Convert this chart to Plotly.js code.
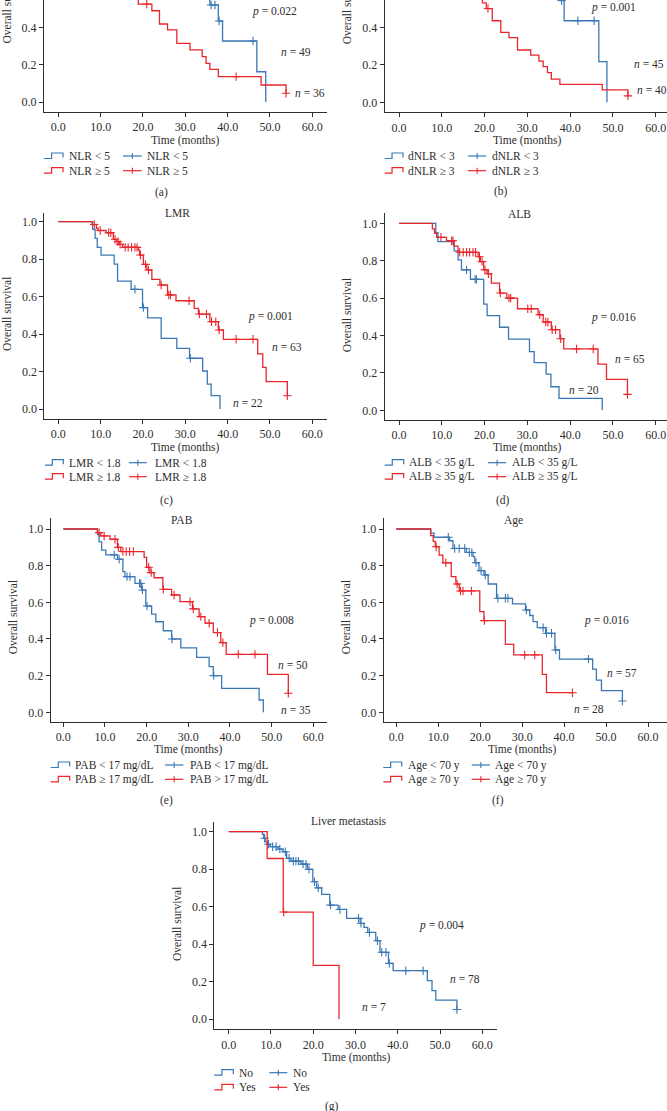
<!DOCTYPE html>
<html><head><meta charset="utf-8">
<script src="https://cdn.plot.ly/plotly-3.0.1.min.js"></script>
<style>html,body{margin:0;padding:0;background:#fff;overflow:hidden}#chart{width:667px;height:1111px}</style>
</head><body><div id="chart"></div>
<script>
// ---------- tick labels ----------
const monthTicks = [0, 10, 20, 30, 40, 50, 60];
const monthLabels = ['0.0', '10.0', '20.0', '30.0', '40.0', '50.0', '60.0'];
const survTicks = [0, 0.2, 0.4, 0.6, 0.8, 1.0];
const survLabels = ['0.0', '0.2', '0.4', '0.6', '0.8', '1.0'];

// ---------- (a) NLR ----------
const nlrLowT = [0, 10, 14, 18, 22, 26, 30, 33, 35.8, 37.8, 38.8, 46.9, 49];
const nlrLowS = [1, 0.96, 0.92, 0.86, 0.8, 0.74, 0.67, 0.6, 0.52, 0.434, 0.327, 0.162, 0];
const nlrLowCens = [36.1, 37.0, 38.0, 46];
const nlrHighT = [0, 8, 9, 10, 12, 13, 14, 15, 16, 17, 18, 18.9, 22.1, 23.9, 25.8, 28, 31.1, 34, 34.9, 35.8, 37.8, 47.9, 53.8];
const nlrHighS = [1, 0.97, 0.94, 0.91, 0.86, 0.83, 0.79, 0.75, 0.71, 0.66, 0.6, 0.525, 0.489, 0.418, 0.386, 0.314, 0.279, 0.243, 0.207, 0.175, 0.136, 0.091, 0.047];
const nlrHighCens = [20.9, 42, 53.8];

// ---------- (b) dNLR ----------
const dnlrLowT = [0, 9, 12, 15, 18, 21, 24, 27, 30, 33, 35.5, 37.7, 38.6, 46.7, 48.6];
const dnlrLowS = [1, 0.97, 0.93, 0.89, 0.84, 0.79, 0.74, 0.69, 0.65, 0.61, 0.57, 0.543, 0.435, 0.217, 0];
const dnlrLowCens = [38.0, 41.8, 45.6];
const dnlrHighT = [0, 8, 9, 11, 12, 13, 14, 15, 16.5, 18, 19.5, 20.4, 21.8, 23.8, 25.7, 27.7, 30.8, 32.7, 33.7, 34.7, 35.6, 37.6, 47.5, 53.5];
const dnlrHighS = [1, 0.97, 0.95, 0.91, 0.88, 0.84, 0.79, 0.74, 0.69, 0.63, 0.53, 0.50, 0.435, 0.373, 0.345, 0.279, 0.252, 0.22, 0.19, 0.158, 0.124, 0.096, 0.066, 0.034];
const dnlrHighCens = [20.8, 53.5];

// ---------- (c) LMR ----------
const lmrLowT = [0, 8.1, 8.7, 9.2, 10.1, 13.2, 14, 17.2, 19.9, 21.1, 24.3, 28, 31, 34.1, 35.2, 36.1, 38.2];
const lmrLowS = [1, 0.959, 0.911, 0.863, 0.822, 0.774, 0.683, 0.639, 0.541, 0.486, 0.377, 0.324, 0.271, 0.203, 0.133, 0.071, 0];
const lmrLowCens = [18.1, 20.1, 31.2];
const lmrHighT = [0, 8, 9, 9.4, 11.3, 13, 13.8, 14.4, 15.2, 18.9, 19.2, 20.1, 20.9, 22.1, 24, 25.8, 27.8, 32.1, 33.1, 35.8, 37.8, 39, 47.1, 48.3, 49.1, 54.1];
const lmrHighS = [1, 0.985, 0.965, 0.953, 0.941, 0.906, 0.893, 0.879, 0.863, 0.849, 0.822, 0.772, 0.742, 0.692, 0.662, 0.609, 0.578, 0.537, 0.507, 0.466, 0.422, 0.372, 0.294, 0.222, 0.146, 0.071];
const lmrHighCens = [8.5, 9.9, 11.9, 12.4, 13.4, 14.1, 14.6, 15.8, 16.5, 17.3, 18.1, 18.6, 19.4, 20.6, 21.3, 24.3, 26.1, 26.5, 30.9, 33.3, 35, 36.2, 37.2, 38, 42, 46, 54.1];

// ---------- (d) ALB ----------
const albLowT = [0, 8.6, 9.1, 12.9, 13.8, 14.6, 16.7, 19.8, 20.6, 23.5, 25.6, 30.5, 31.6, 34.4, 35.5, 37.4, 47.5];
const albLowS = [1, 0.95, 0.902, 0.853, 0.804, 0.751, 0.7, 0.568, 0.506, 0.444, 0.381, 0.314, 0.255, 0.193, 0.126, 0.064, 0];
const albLowCens = [15.8, 17.8, 18.1];
const albHighT = [0, 7.8, 8.3, 8.8, 11.1, 12.8, 13.8, 18.5, 19, 19.8, 20.6, 21.6, 23.5, 25.2, 27.7, 32.5, 33.7, 35.6, 37.6, 38.5, 46.5, 48.5, 53.4];
const albHighS = [1, 0.97, 0.946, 0.925, 0.907, 0.878, 0.845, 0.821, 0.795, 0.751, 0.73, 0.68, 0.627, 0.6, 0.543, 0.511, 0.472, 0.431, 0.383, 0.328, 0.247, 0.165, 0.085];
const albHighCens = [9.8, 12.3, 12.6, 14.2, 15, 15.8, 16.5, 17.3, 17.9, 18.8, 19.4, 20.1, 20.9, 23.7, 25.7, 26.1, 30.1, 30.9, 32.9, 34.3, 34.8, 35.8, 36.6, 37.8, 41.5, 45.4, 53.4];

// ---------- (e) PAB ----------
const pabLowT = [0, 8.2, 8.6, 9.2, 10.2, 13, 14.3, 14.8, 17.2, 18.8, 19.8, 21.2, 22.2, 24, 26, 28.2, 32, 35, 36, 38, 47, 48];
const pabLowS = [1, 0.97, 0.93, 0.885, 0.859, 0.835, 0.767, 0.74, 0.703, 0.667, 0.58, 0.536, 0.494, 0.445, 0.4, 0.352, 0.3, 0.249, 0.2, 0.131, 0.067, 0];
const pabLowCens = [12.2, 13.4, 15.3, 16, 18.3, 18.6, 19.0, 20.1, 26.1, 36.1];
const pabHighT = [0, 8.2, 9, 11.2, 13, 13.8, 19.4, 20, 20.8, 21.8, 23.9, 26, 28, 31, 32.6, 34, 36, 37.8, 39.1, 49, 54];
const pabHighS = [1, 0.98, 0.962, 0.944, 0.9, 0.877, 0.845, 0.791, 0.762, 0.734, 0.671, 0.64, 0.604, 0.564, 0.522, 0.486, 0.435, 0.38, 0.316, 0.207, 0.104];
const pabHighCens = [8.6, 9.8, 12.4, 13.2, 14.3, 15.1, 15.9, 16.8, 20.5, 21.1, 24, 26.6, 30.4, 31.2, 33, 35, 37, 38.3, 42, 46, 54];

// ---------- (f) Age ----------
const ageLowT = [0, 8.2, 9, 12.7, 13.5, 16.7, 18.3, 18.7, 19.7, 20.9, 21.9, 23.9, 27.7, 30.8, 31.8, 32.6, 33.6, 35.6, 37.8, 38.9, 46.8, 47.7, 48.9, 53.9];
const ageLowS = [1, 0.977, 0.955, 0.936, 0.894, 0.872, 0.849, 0.816, 0.773, 0.749, 0.7, 0.622, 0.591, 0.558, 0.528, 0.495, 0.462, 0.431, 0.34, 0.29, 0.235, 0.176, 0.118, 0.062];
const ageLowCens = [12.4, 13.9, 15, 16.3, 17.4, 18.0, 19.0, 20.2, 21.2, 24.2, 26, 26.6, 31, 35, 35.8, 37, 38, 45.8, 53.9];
const ageHighT = [0, 8.2, 8.8, 9.3, 10.2, 11.1, 13.1, 14.2, 15, 19.9, 20.9, 26, 28, 34.8, 35.8, 42];
const ageHighS = [1, 0.964, 0.932, 0.903, 0.858, 0.816, 0.74, 0.7, 0.662, 0.549, 0.5, 0.371, 0.313, 0.207, 0.107, 0.107];
const ageHighCens = [9.5, 11.8, 14.5, 15.3, 15.9, 17.9, 21, 30.6, 33, 42];

// ---------- (g) Liver metastasis ----------
const liverNoT = [0, 8, 8.3, 8.6, 9.1, 9.8, 11.7, 12.8, 13.7, 14.7, 17.1, 18.6, 19.9, 20.8, 22, 23.9, 25.9, 27.9, 31.1, 32, 32.9, 34.8, 35.8, 37.8, 38.9, 47, 48.1, 49, 54];
const liverNoS = [1, 0.985, 0.965, 0.947, 0.933, 0.92, 0.907, 0.893, 0.858, 0.843, 0.827, 0.799, 0.733, 0.7, 0.665, 0.608, 0.585, 0.537, 0.511, 0.489, 0.462, 0.418, 0.356, 0.297, 0.258, 0.205, 0.151, 0.101, 0.051];
const liverNoCens = [8.5, 9.4, 10.4, 11.2, 12.1, 13.4, 14.3, 15.3, 15.9, 16.5, 17.6, 18.3, 19.0, 20.3, 21.2, 24.1, 26.3, 30.7, 31.3, 33.3, 35.2, 36.2, 37.2, 38.0, 41.9, 46, 54];
const liverYesT = [0, 9.1, 12.9, 20, 26.1];
const liverYesS = [1, 0.857, 0.571, 0.286, 0];
const liverYesCens = [13.0];

// ---------- layout ----------
const W = 667, H = 1111;
const BLUE = '#3a78b5', RED = '#e8262c', INK = '#2e2e2e';
const FONT = '"Liberation Serif", "Times New Roman", serif';
const px = x => x / W, py = y => 1 - y / H;

const panels = [
  {L:44, R:327, T:0, B:112, X0:58.3, X60:312.3, Y0:102, Y1:-84.6,
   blue:[nlrLowT, nlrLowS, nlrLowCens], red:[nlrHighT, nlrHighS, nlrHighCens],
   ytx:6.5, p:[274, 11.7, '0.022'], n1:[295.5, 52.3, '49'], n2:[310.3, 93.3, '36'], letter:[161.7, 192.3, '(a)'],
   rows:[156, 170.7], s1:[44, 63], t1:66.7, s2:[123, 141.7], t2:145,
   labels:['NLR < 5', 'NLR ≥ 5', 'NLR < 5', 'NLR ≥ 5']},
  {L:384.7, R:667, T:0, B:112.3, X0:399, X60:655.7, Y0:102.3, Y1:-85.2,
   blue:[dnlrLowT, dnlrLowS, dnlrLowCens], red:[dnlrHighT, dnlrHighS, dnlrHighCens],
   ytx:347, p:[613.8, 7.3, '0.001'], n1:[649, 64.3, '45'], n2:[652, 90, '40'], letter:[501.3, 192, '(b)'],
   rows:[156, 170.7], s1:[384.7, 403], t1:406.3, s2:[468, 486.3], t2:489.7,
   labels:['dNLR < 3', 'dNLR ≥ 3', 'dNLR < 3', 'dNLR ≥ 3']},
  {L:44.3, R:327, T:212.7, B:419, X0:58.3, X60:312.3, Y0:409, Y1:221.7, title:['LMR', 177, 212.7],
   blue:[lmrLowT, lmrLowS, lmrLowCens], red:[lmrHighT, lmrHighS, lmrHighCens],
   ytx:7, p:[270.8, 316.7, '0.001'], n1:[287, 346.7, '63'], n2:[247.5, 403.3, '22'], letter:[166.7, 500, '(c)'],
   rows:[462.7, 476.7], s1:[45, 63.3], t1:67.3, s2:[129, 146.7], t2:152.7,
   labels:['LMR < 1.8', 'LMR ≥ 1.8', 'LMR < 1.8', 'LMR ≥ 1.8']},
  {L:384.7, R:667, T:213.3, B:420, X0:399, X60:655.7, Y0:410.3, Y1:223.3, title:['ALB', 519.7, 214],
   blue:[albLowT, albLowS, albLowCens], red:[albHighT, albHighS, albHighCens],
   ytx:347, p:[613.8, 317.3, '0.016'], n1:[629.7, 359.3, '65'], n2:[584, 390, '20'], letter:[503, 500, '(d)'],
   rows:[462.7, 476.7], s1:[384.7, 403.7], t1:407, s2:[488, 506.3], t2:509.7,
   labels:['ALB < 35 g/L', 'ALB ≥ 35 g/L', 'ALB < 35 g/L', 'ALB ≥ 35 g/L']},
  {L:50.7, R:326.7, T:518.3, B:721.7, X0:63.3, X60:313.3, Y0:712.3, Y1:529, title:['PAB', 181.7, 520],
   blue:[pabLowT, pabLowS, pabLowCens], red:[pabHighT, pabHighS, pabHighCens],
   ytx:13, p:[271, 620.7, '0.008'], n1:[293.3, 665, '50'], n2:[296, 710, '35'], letter:[166, 800, '(e)'],
   rows:[765, 779.3], s1:[50.7, 69.7], t1:73, s2:[165, 183.3], t2:188.3,
   labels:['PAB < 17 mg/dL', 'PAB ≥ 17 mg/dL', 'PAB < 17 mg/dL', 'PAB > 17 mg/dL']},
  {L:383.7, R:667, T:518.3, B:721.7, X0:396.3, X60:648, Y0:712.3, Y1:529, title:['Age', 513.7, 520],
   blue:[ageLowT, ageLowS, ageLowCens], red:[ageHighT, ageHighS, ageHighCens],
   ytx:346, p:[606, 620.7, '0.016'], n1:[622.3, 673.3, '57'], n2:[589, 709.3, '28'], letter:[498.3, 800, '(f)'],
   rows:[765, 779.3], s1:[383.3, 401.7], t1:406, s2:[471.7, 490], t2:493,
   labels:['Age < 70 y', 'Age ≥ 70 y', 'Age < 70 y', 'Age ≥ 70 y']},
  {L:214.3, R:496.7, T:821.7, B:1029.3, X0:228.7, X60:482.3, Y0:1019, Y1:831.7, title:['Liver metastasis', 349, 820.7],
   blue:[liverNoT, liverNoS, liverNoCens], red:[liverYesT, liverYesS, liverYesCens],
   ytx:177, p:[441.7, 925, '0.004'], n1:[465, 979.3, '78'], n2:[374, 1006.7, '7'], letter:[331.7, 1106.7, '(g)'],
   rows:[1072.7, 1087.3], s1:[214.3, 233.3], t1:236.7, s2:[269.3, 287.3], t2:290.7,
   labels:['No', 'Yes', 'No', 'Yes']}
];

function survAt(t, s, time) {
  let v = s[0];
  for (let i = 0; i < t.length; i++) if (t[i] <= time + 1e-9) v = s[i];
  return v;
}

const data = [], annotations = [], shapes = [];
const layout = {
  width: W, height: H, margin: {l:0, r:0, t:0, b:0}, paper_bgcolor:'#fff', plot_bgcolor:'#fff',
  showlegend: false, font: {family: FONT, size: 11, color: INK}
};

function txt(x, y, text, extra) {
  annotations.push(Object.assign({xref:'paper', yref:'paper', x:px(x), y:py(y), text:text, showarrow:false,
    xanchor:'center', yanchor:'middle', font:{family:FONT, size:11.5, color:INK}}, extra || {}));
}

panels.forEach((P, i) => {
  const n = i === 0 ? '' : String(i + 1);
  const k = (P.X60 - P.X0) / 60, ky = P.Y0 - P.Y1;
  const axisBase = {showline:true, linecolor:INK, linewidth:1, ticks:'outside', ticklen:4, tickwidth:1,
    tickcolor:INK, showgrid:false, zeroline:false, automargin:false, tickmode:'array',
    tickfont:{family:FONT, size:12, color:INK}, fixedrange:true};
  layout['xaxis' + n] = Object.assign({}, axisBase, {
    domain:[px(P.L), px(P.R)], range:[(P.L - P.X0) / k, (P.R - P.X0) / k], anchor:'y' + n,
    tickvals:monthTicks, ticktext:monthLabels});
  layout['yaxis' + n] = Object.assign({}, axisBase, {
    domain:[py(P.B), py(P.T)], range:[(P.Y0 - P.B) / ky, (P.Y0 - P.T) / ky], anchor:'x' + n,
    tickvals:survTicks, ticktext:survLabels});
  [[P.blue, BLUE], [P.red, RED]].forEach(([c, col]) => {
    const [t, s, cens] = c;
    data.push({type:'scatter', mode:'lines', x:t, y:s, line:{shape:'hv', color:col, width:1.3},
      xaxis:'x' + n, yaxis:'y' + n, hoverinfo:'skip'});
    data.push({type:'scatter', mode:'markers', x:cens, y:cens.map(v => survAt(t, s, v)),
      marker:{symbol:'cross-thin', size:6, line:{color:col, width:1.1}, color:col},
      xaxis:'x' + n, yaxis:'y' + n, hoverinfo:'skip'});
  });
  // texts
  if (P.title) txt(P.title[1], P.title[2], P.title[0]);
  txt(P.ytx, P.Y0 - 95, 'Overall survival', {textangle:-90});
  txt((P.X0 + P.X60) / 2, P.B + 28, 'Time (months)');
  txt(P.p[0], P.p[1], '<i>p</i> = ' + P.p[2]);
  txt(P.n1[0], P.n1[1], '<i>n</i> = ' + P.n1[2]);
  txt(P.n2[0], P.n2[1], '<i>n</i> = ' + P.n2[2]);
  txt(P.letter[0], P.letter[1], P.letter[2]);
  // legend
  const cols = [BLUE, RED];
  P.rows.forEach((r, j) => {
    const col = cols[j];
    const x0 = P.s1[0], x1 = P.s1[1], xm = x0 + 0.4 * (x1 - x0);
    shapes.push({type:'path', xref:'paper', yref:'paper',
      path:`M ${px(x0)} ${py(r + 2.5)} L ${px(xm)} ${py(r + 2.5)} L ${px(xm)} ${py(r - 3)} L ${px(x1)} ${py(r - 3)} L ${px(x1)} ${py(r + 1.5)}`,
      line:{color:col, width:1.2}});
    shapes.push({type:'line', xref:'paper', yref:'paper', x0:px(P.s2[0]), x1:px(P.s2[1]), y0:py(r), y1:py(r), line:{color:col, width:1.2}});
    const cx = (P.s2[0] + P.s2[1]) / 2;
    shapes.push({type:'line', xref:'paper', yref:'paper', x0:px(cx), x1:px(cx), y0:py(r - 3), y1:py(r + 3), line:{color:col, width:1.1}});
    txt(P.t1, r, P.labels[j], {xanchor:'left'});
    txt(P.t2, r, P.labels[2 + j], {xanchor:'left'});
  });
});

layout.annotations = annotations;
layout.shapes = shapes;
Plotly.newPlot('chart', data, layout, {staticPlot:true, displayModeBar:false});
</script></body></html>
